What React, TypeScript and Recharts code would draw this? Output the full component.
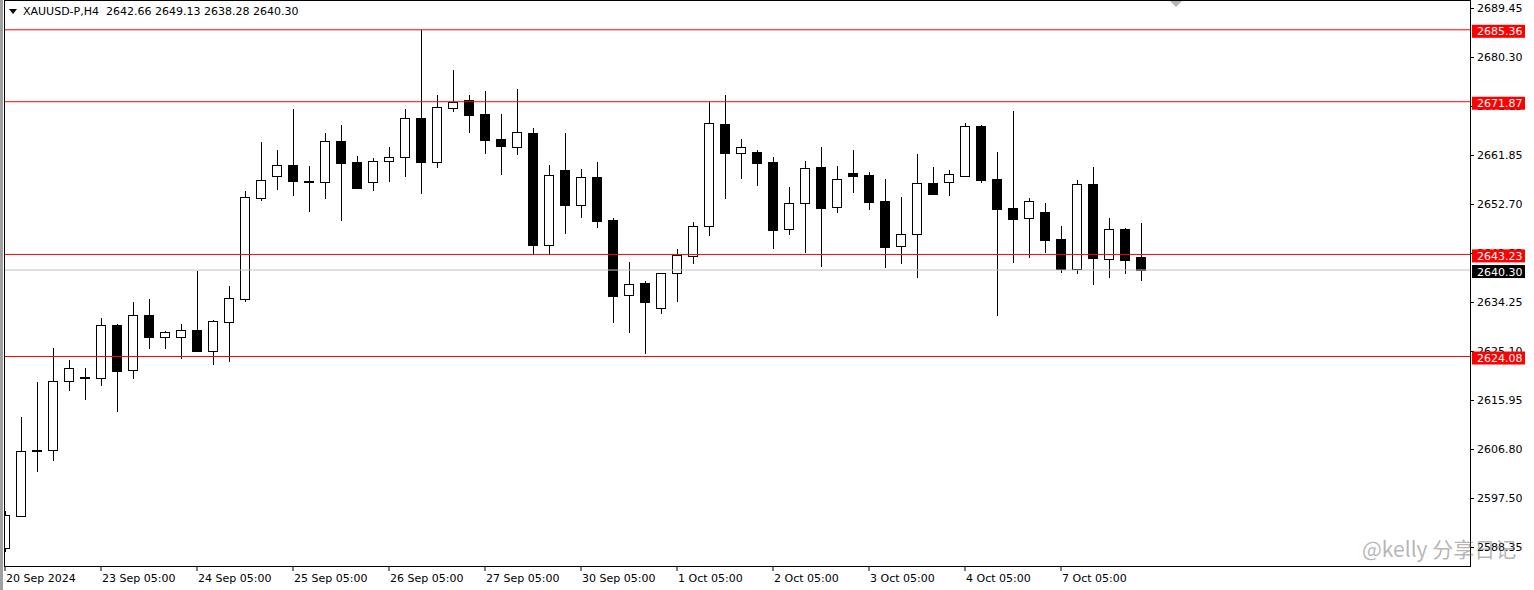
import React from "react";
import { ComposedChart, Bar, XAxis, YAxis, ReferenceLine } from "recharts";

// XAUUSD-P H4 candles (index 0 = leftmost, partly hidden)
const opens = [
  2588.16, 2594.16, 2606.4, 2606.5, 2619.49, 2620.15, 2620.05, 2629.99, 2621.55, 2631.87,
  2627.74, 2627.74, 2629.05, 2625.11, 2630.55, 2634.87, 2653.81, 2657.94, 2660.0, 2657.0,
  2656.81, 2664.5, 2660.56, 2656.81, 2660.75, 2661.5, 2668.82, 2660.56, 2670.69, 2672.19,
  2669.57, 2664.88, 2663.38, 2666.0, 2645.0, 2659.06, 2652.5, 2657.75, 2649.68, 2635.62,
  2637.87, 2633.18, 2639.74, 2642.93, 2648.56, 2667.69, 2662.25, 2662.44, 2660.56, 2648.0,
  2652.87, 2659.63, 2652.12, 2658.5, 2658.13, 2653.25, 2644.81, 2647.06, 2656.62, 2656.81,
  2657.94, 2667.32, 2657.37, 2651.94, 2650.06, 2651.19, 2646.12, 2640.49, 2656.44, 2642.37,
  2648.0, 2642.66,
];
const highs = [
  2595.1, 2612.73, 2619.3, 2625.68, 2623.42, 2621.92, 2631.3, 2630.18, 2634.3, 2634.87,
  2628.86, 2630.18, 2640.12, 2630.93, 2637.3, 2655.12, 2664.32, 2662.81, 2670.5, 2659.81,
  2666.0, 2667.5, 2661.69, 2661.31, 2663.38, 2670.5, 2685.36, 2673.13, 2677.82, 2673.13,
  2673.88, 2669.57, 2674.26, 2666.94, 2660.0, 2666.0, 2659.25, 2660.56, 2650.06, 2641.81,
  2638.24, 2639.8, 2644.24, 2649.31, 2671.82, 2673.13, 2664.88, 2662.81, 2661.5, 2655.87,
  2660.75, 2663.38, 2659.81, 2662.81, 2658.69, 2657.37, 2654.0, 2662.06, 2659.63, 2659.06,
  2667.88, 2667.5, 2662.44, 2670.13, 2653.81, 2652.87, 2648.56, 2657.19, 2659.63, 2650.06,
  2648.1, 2649.13,
];
const lows = [
  2587.41, 2593.95, 2602.42, 2604.48, 2617.61, 2615.92, 2618.55, 2613.67, 2619.86, 2625.49,
  2625.49, 2623.61, 2624.93, 2622.49, 2623.05, 2634.3, 2653.25, 2655.31, 2654.19, 2651.19,
  2653.62, 2649.5, 2655.5, 2655.12, 2656.81, 2657.75, 2654.56, 2659.44, 2669.94, 2666.0,
  2662.06, 2658.13, 2661.88, 2643.12, 2643.12, 2647.06, 2650.06, 2648.18, 2630.37, 2628.49,
  2624.55, 2632.05, 2634.3, 2641.43, 2646.68, 2653.62, 2657.37, 2656.06, 2644.24, 2646.87,
  2643.49, 2640.87, 2651.0, 2654.75, 2651.56, 2640.68, 2641.43, 2638.81, 2654.37, 2654.19,
  2657.75, 2656.62, 2631.68, 2641.62, 2642.56, 2643.49, 2639.74, 2639.56, 2637.49, 2638.81,
  2639.56, 2638.28,
];
const closes = [
  2594.35, 2606.36, 2606.5, 2619.49, 2621.92, 2620.05, 2629.99, 2621.36, 2631.87, 2627.74,
  2628.68, 2629.05, 2625.11, 2630.74, 2635.05, 2654.0, 2657.19, 2660.0, 2657.0, 2656.95,
  2664.5, 2660.38, 2655.69, 2660.75, 2661.5, 2668.82, 2660.56, 2670.88, 2671.82, 2669.38,
  2664.69, 2663.56, 2666.19, 2645.0, 2658.13, 2652.5, 2657.75, 2649.5, 2635.43, 2637.68,
  2634.3, 2639.74, 2643.12, 2648.56, 2667.88, 2662.25, 2663.38, 2660.38, 2647.81, 2652.87,
  2659.44, 2651.94, 2657.37, 2657.94, 2653.06, 2644.62, 2647.06, 2656.62, 2654.56, 2658.31,
  2667.32, 2657.19, 2651.75, 2649.87, 2653.25, 2645.93, 2640.49, 2656.44, 2642.56, 2648.0,
  2642.18, 2640.3,
];

const dayTicks = [0, 6, 12, 18, 24, 30, 36, 42, 48, 54, 60, 66];
const dayLabels = [
  "20 Sep 2024", "23 Sep 05:00", "24 Sep 05:00", "25 Sep 05:00", "26 Sep 05:00", "27 Sep 05:00",
  "30 Sep 05:00", "1 Oct 05:00", "2 Oct 05:00", "3 Oct 05:00", "4 Oct 05:00", "7 Oct 05:00",
];
const priceTicks = [
  2689.45, 2680.3, 2671.15, 2661.85, 2652.7, 2643.55, 2634.25, 2625.1, 2615.95, 2606.8, 2597.5, 2588.35,
];
const levels = [2685.36, 2671.87, 2643.23, 2624.08];
const bid = 2640.3;

// visible window
const yMin = 2584.79;
const yMax = 2690.95;
const xMin = -0.0625;
const xMax = 91.5625;

const data = opens.map((o, i) => ({
  i,
  open: o,
  high: highs[i],
  low: lows[i],
  close: closes[i],
}));

// tags go last so they paint over the plain price labels
const axisTicks = [...priceTicks, bid, ...levels];

const FONT = "DejaVu Sans";

function Candle(props: any) {
  const { x, y, width, height, payload } = props;
  if (!payload) return null;
  const { open, high, low, close } = payload;
  const h = Math.abs(height);
  const top0 = height < 0 ? y + height : y;
  const k = h / (high - low);
  const py = (p: number) => top0 + (high - p) * k;
  const cx = Math.round(x + width / 2) + 0.5;
  const up = close >= open;
  const top = Math.round(py(Math.max(open, close))) + 0.5;
  let bot = Math.round(py(Math.min(open, close))) + 0.5;
  if (bot - top < 1) bot = top + 1;
  return (
    <g>
      <line x1={cx} x2={cx} y1={Math.round(py(high))} y2={Math.round(py(low))} stroke="#000" />
      <rect x={cx - 5} y={top} width={9} height={bot - top} fill={up ? "#fff" : "#000"} stroke="#000" />
    </g>
  );
}

function PriceTick(props: any) {
  const { x, y, payload } = props;
  const v = Number(payload.value);
  const isLevel = levels.includes(v);
  const isBid = v === bid;
  if (isLevel || isBid) {
    return (
      <g>
        <rect x={x - 5} y={y - 5} width={53} height={13} fill={isBid ? "#000" : "#ff0000"} />
        <text x={x} y={y + 5.5} fill="#fff" fontSize={11} fontFamily={FONT}>
          {v.toFixed(2)}
        </text>
      </g>
    );
  }
  return (
    <g>
      <line x1={x - 7} x2={x - 3} y1={Math.round(y) + 0.5} y2={Math.round(y) + 0.5} stroke="#000" />
      <text x={x} y={y + 4} fill="#000" fontSize={11} fontFamily={FONT}>
        {v.toFixed(2)}
      </text>
    </g>
  );
}

function DayTick(props: any) {
  const { x, y, payload } = props;
  const idx = dayTicks.indexOf(payload.value);
  return (
    <text x={x + 1} y={y + 9} fill="#000" fontSize={11} fontFamily={FONT}>
      {dayLabels[idx]}
    </text>
  );
}

export default function App() {
  return (
    <div style={{ position: "absolute", left: 0, top: 0, width: 1534, height: 590, background: "#fff", overflow: "hidden" }}>
      <ComposedChart width={1534} height={590} data={data} margin={{ top: 0, right: 0, bottom: 0, left: 4 }}>
        <XAxis
          dataKey="i"
          type="number"
          domain={[xMin, xMax]}
          allowDataOverflow
          ticks={dayTicks}
          interval={0}
          height={24}
          tickSize={5}
          tickMargin={2}
          axisLine={false}
          tickLine={{ stroke: "#000" }}
          tick={<DayTick />}
        />
        <YAxis
          orientation="right"
          type="number"
          domain={[yMin, yMax]}
          allowDataOverflow
          ticks={axisTicks}
          interval={0}
          width={64}
          tickSize={4}
          tickMargin={3}
          axisLine={false}
          tickLine={false}
          tick={<PriceTick />}
        />
        <Bar
          dataKey={(d: any) => [d.low, d.high]}
          barSize={10}
          shape={<Candle />}
          isAnimationActive={false}
        />
        <ReferenceLine y={bid} stroke="#c0c0c0" strokeWidth={1} />
        {levels.map((v) => (
          <ReferenceLine key={v} y={v} stroke="#ff0000" strokeWidth={1} />
        ))}
      </ComposedChart>

      {/* chart frame */}
      <div
        style={{
          position: "absolute",
          left: 4,
          top: 0,
          width: 1467,
          height: 567,
          border: "1px solid #000",
          boxSizing: "border-box",
          pointerEvents: "none",
        }}
      />
      <div style={{ position: "absolute", left: 0, top: 0, width: 3, height: 590, background: "#a0a0a0" }} />

      {/* header */}
      <div
        style={{
          position: "absolute",
          left: 9,
          top: 9,
          width: 0,
          height: 0,
          borderLeft: "4px solid transparent",
          borderRight: "4px solid transparent",
          borderTop: "5px solid #000",
        }}
      />
      <div
        style={{
          position: "absolute",
          left: 23,
          top: 5,
          fontFamily: FONT,
          fontSize: 11,
          lineHeight: "13px",
          whiteSpace: "pre",
          color: "#000",
        }}
      >
        {"XAUUSD-P,H4  2642.66 2649.13 2638.28 2640.30"}
      </div>

      {/* chart shift marker */}
      <div
        style={{
          position: "absolute",
          left: 1170,
          top: 1,
          width: 0,
          height: 0,
          borderLeft: "6px solid transparent",
          borderRight: "6px solid transparent",
          borderTop: "6px solid #b4b4b4",
        }}
      />

      {/* watermark */}
      <div
        style={{
          position: "absolute",
          left: 1362,
          top: 535,
          fontFamily: "Noto Sans CJK SC",
          fontSize: 21,
          lineHeight: "26px",
          whiteSpace: "pre",
          color: "rgba(110,110,110,0.5)",
        }}
      >
        {"@kelly 分享日记"}
      </div>
    </div>
  );
}
